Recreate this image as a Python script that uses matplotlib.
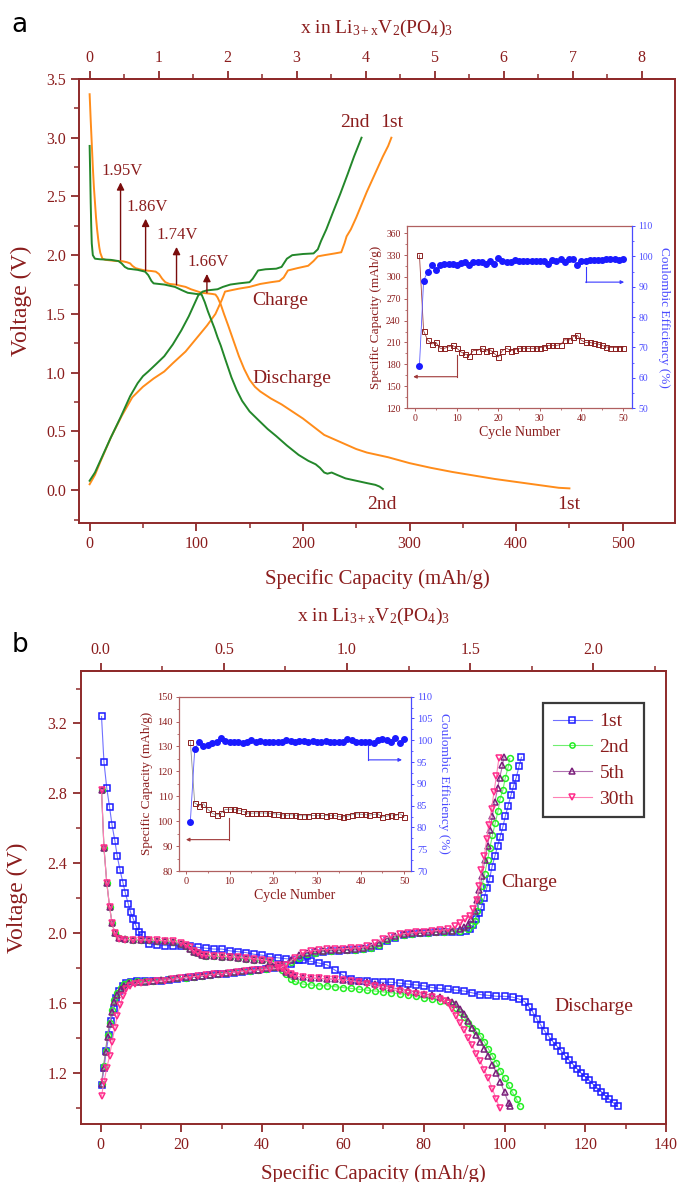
import numpy as np
import matplotlib
matplotlib.use('Agg')
import matplotlib.pyplot as plt
from matplotlib.ticker import MultipleLocator, FixedLocator, FormatStrFormatter

plt.rcParams['font.family'] = ['Liberation Serif', 'DejaVu Serif']
plt.rcParams['mathtext.fontset'] = 'custom'
plt.rcParams['mathtext.rm'] = 'Liberation Serif'
plt.rcParams['mathtext.it'] = 'Liberation Serif:italic'

SPINE = '#8e2a2a'
TXT = '#8b1d1d'
BLUE_AX = '#4a4aff'

# ---------------- panel a : voltage profiles (mAh/g, V) ----------------
a1_dis_cap = [0, 1, 2, 3, 4, 5, 6, 7, 8, 9, 10, 12, 15, 20, 25, 30, 35, 38, 40, 43, 47, 52, 58, 62,
              65, 68, 71, 75, 80, 85, 90, 95, 100, 105, 110, 115, 118, 120, 123, 126, 130, 135, 140,
              145, 150, 155, 160, 170, 180, 190, 200, 210, 220, 230, 240, 250, 260, 270, 280, 300,
              320, 340, 360, 380, 400, 420, 440, 450]
a1_dis_v = [3.37, 3.15, 2.95, 2.75, 2.58, 2.45, 2.32, 2.22, 2.14, 2.07, 2.02, 1.97, 1.96, 1.955, 1.95,
            1.95, 1.94, 1.93, 1.91, 1.89, 1.88, 1.87, 1.865, 1.86, 1.84, 1.80, 1.77, 1.755, 1.75, 1.74,
            1.73, 1.71, 1.695, 1.68, 1.675, 1.67, 1.665, 1.64, 1.58, 1.50, 1.40, 1.27, 1.14, 1.03, 0.94,
            0.88, 0.84, 0.78, 0.73, 0.67, 0.61, 0.54, 0.47, 0.43, 0.39, 0.35, 0.32, 0.30, 0.28, 0.23,
            0.19, 0.155, 0.125, 0.095, 0.07, 0.045, 0.02, 0.015]
a1_chg_cap = [0, 5, 10, 20, 30, 40, 50, 60, 70, 78, 90, 100, 110, 118, 124, 127, 132, 140, 150, 160,
              170, 178, 182, 186, 195, 205, 210, 214, 220, 230, 236, 239, 241, 245, 250, 255, 260,
              265, 270, 275, 280, 283]
a1_chg_v = [0.05, 0.13, 0.24, 0.45, 0.63, 0.79, 0.88, 0.95, 1.01, 1.08, 1.18, 1.29, 1.40, 1.50, 1.62,
            1.69, 1.70, 1.715, 1.73, 1.755, 1.77, 1.78, 1.81, 1.87, 1.89, 1.91, 1.95, 1.99, 2.00, 2.015,
            2.025, 2.10, 2.16, 2.22, 2.32, 2.43, 2.54, 2.64, 2.74, 2.84, 2.93, 3.0]
a2_dis_cap = [0, 0.5, 1, 1.5, 2, 3, 5, 10, 20, 27, 30, 33, 36, 45, 52, 55, 58, 60, 70, 80, 87, 92,
              100, 105, 108, 111, 114, 117, 120, 123, 127, 133, 138, 143, 150, 159, 167, 175, 185,
              196, 205, 212, 216, 220, 223, 227, 232, 240, 250, 260, 268, 272, 275]
a2_dis_v = [2.93, 2.70, 2.45, 2.25, 2.10, 2.00, 1.97, 1.965, 1.96, 1.95, 1.93, 1.90, 1.885, 1.875,
            1.86, 1.83, 1.78, 1.76, 1.75, 1.73, 1.70, 1.68, 1.67, 1.665, 1.60, 1.52, 1.45, 1.38, 1.30,
            1.23, 1.12, 0.96, 0.85, 0.76, 0.67, 0.59, 0.52, 0.46, 0.38, 0.30, 0.25, 0.22, 0.19, 0.15,
            0.14, 0.15, 0.13, 0.10, 0.08, 0.06, 0.045, 0.03, 0.01]
a2_chg_cap = [0, 5, 10, 20, 29, 38, 45, 50, 55, 62, 70, 78, 86, 93, 98, 102, 106, 110, 120, 125, 132,
              140, 150, 153, 158, 165, 175, 180, 185, 190, 200, 210, 214, 217, 222, 228, 235, 242,
              248, 255]
a2_chg_v = [0.08, 0.15, 0.25, 0.45, 0.62, 0.80, 0.91, 0.97, 1.01, 1.07, 1.14, 1.24, 1.36, 1.48, 1.58,
            1.66, 1.69, 1.70, 1.71, 1.73, 1.75, 1.76, 1.77, 1.80, 1.87, 1.88, 1.885, 1.90, 1.97, 2.00,
            2.01, 2.015, 2.05, 2.12, 2.22, 2.36, 2.52, 2.69, 2.84, 3.0]

plateau_v = ['1.95V', '1.86V', '1.74V', '1.66V']
plateau_cap = [29, 52.5, 81.5, 110]
plateau_lo = [1.96, 1.87, 1.75, 1.68]
plateau_hi = [2.62, 2.31, 2.07, 1.84]

# inset a : cycling
cycles = list(range(1, 51))
ia_cap = [330, 226, 213, 208, 210, 202, 202, 204, 206, 202,
          197, 194, 192, 199, 199, 202, 198, 200, 195, 190,
          199, 202, 199, 200, 202, 202, 202, 202, 202, 203,
          204, 206, 206, 206, 207, 214, 213, 218, 220, 213,
          210, 210, 209, 208, 206, 204, 203, 203, 203, 203]
ia_ce = [64, 92, 95, 97, 95.5, 97, 97.5, 97.5, 97.5, 97,
         97.8, 98, 97, 98, 98, 98, 97.5, 98.5, 97.5, 99.5,
         98.5, 98, 98, 98.8, 98.3, 98.3, 98.3, 98.3, 98.3, 98.3,
         98.5, 97.5, 98.8, 98.5, 99, 98, 99, 99, 97, 98.5,
         98.5, 98.8, 98.8, 98.8, 98.8, 99, 99, 99, 98.8, 99.2]

# ---------------- panel b : cycles 1, 2, 5, 30 ----------------
b1_dis_cap = [0.2, 0.8, 1.5, 2.2, 2.8, 3.5, 4.1, 4.8, 5.5, 6.1, 6.8, 7.4, 8.1, 8.8, 9.4, 10.1, 11, 12,
              14, 16, 18, 20, 22, 24, 26, 28, 30, 32, 34, 36, 38, 40, 42, 44, 46, 48, 50, 52, 54, 56,
              58, 60, 62, 64, 66, 68, 70, 72, 74, 76, 78, 80, 82, 84, 86, 88, 90, 92, 94, 96, 98, 100,
              102, 103.5, 105, 106, 107, 108, 109, 110, 111, 112, 113, 114, 115, 116, 117, 118, 119,
              120, 121, 122, 123, 124, 125, 126, 127, 128]
b1_dis_v = [3.24, 2.98, 2.83, 2.72, 2.62, 2.53, 2.44, 2.36, 2.29, 2.23, 2.17, 2.12, 2.08, 2.04, 2.01,
            1.99, 1.96, 1.94,
            1.935, 1.93, 1.93, 1.93, 1.925, 1.92, 1.915, 1.91, 1.91, 1.90, 1.895, 1.89, 1.88, 1.875,
            1.865, 1.86, 1.855, 1.85, 1.845, 1.84, 1.83, 1.82, 1.79, 1.76, 1.74, 1.73, 1.725, 1.72,
            1.72, 1.72, 1.715, 1.71, 1.705, 1.70, 1.69, 1.685, 1.68, 1.675, 1.67, 1.66, 1.65, 1.645,
            1.64, 1.64, 1.635, 1.625,
            1.61, 1.58, 1.55, 1.51, 1.475, 1.44, 1.41, 1.38, 1.355, 1.33, 1.30, 1.275, 1.25, 1.225,
            1.20, 1.18, 1.16, 1.135, 1.115, 1.095, 1.07, 1.05, 1.03, 1.01]
b2_dis_cap = [0.2, 0.8, 1.5, 2.2, 2.8, 3.5, 4.5, 6, 8, 10, 12, 14, 16, 18, 20, 21, 22, 23, 24, 25, 26,
              28, 30, 32, 34, 36, 38, 40, 42, 44, 45, 46, 47, 48, 50, 52, 54, 56, 58, 60, 62, 64, 66,
              68, 70, 72, 74, 76, 78, 80, 82, 84, 86, 87, 88, 89, 90, 91, 92, 93, 94, 95, 96, 97, 98,
              99, 100, 101, 102, 103, 103.8]
b2_dis_v = [2.82, 2.49, 2.29, 2.15, 2.06, 2.00, 1.975, 1.965, 1.962,
            1.96, 1.96, 1.958, 1.955, 1.95, 1.94,
            1.93, 1.91, 1.895, 1.885, 1.878, 1.872,
            1.868, 1.865, 1.862, 1.86, 1.855, 1.85, 1.845, 1.835, 1.81,
            1.79, 1.765, 1.74, 1.725,
            1.71, 1.705, 1.70, 1.70, 1.695, 1.69, 1.685, 1.68, 1.675, 1.67, 1.665, 1.66, 1.655, 1.65,
            1.64, 1.63, 1.625, 1.615, 1.605,
            1.595, 1.575, 1.55, 1.52, 1.49, 1.46, 1.44, 1.415, 1.38, 1.34, 1.30, 1.26, 1.215, 1.17,
            1.13, 1.09, 1.05, 1.01]
b5_dis_cap = [0.2, 0.8, 1.5, 2.2, 2.8, 3.5, 4.5, 6, 8, 10, 12, 14, 16, 18, 20, 21, 22, 23, 24, 25, 26,
              28, 30, 32, 34, 36, 38, 40, 42, 44, 45, 46, 47, 48, 50, 52, 54, 56, 58, 60, 62, 64, 66,
              68, 70, 72, 74, 76, 78, 80, 82, 84, 86, 87, 88, 89, 90, 91, 92, 93, 94, 95, 96, 97, 98,
              99, 100, 101, 101.3]
b5_dis_v = [2.82, 2.49, 2.29, 2.15, 2.06, 2.00, 1.975, 1.965, 1.962,
            1.96, 1.96, 1.958, 1.955, 1.95, 1.94,
            1.93, 1.91, 1.895, 1.885, 1.878, 1.872,
            1.868, 1.865, 1.862, 1.86, 1.855, 1.85, 1.845, 1.838, 1.82,
            1.80, 1.78, 1.765, 1.755,
            1.75, 1.745, 1.742, 1.74, 1.737, 1.735, 1.73, 1.725, 1.72, 1.71, 1.70, 1.69, 1.68, 1.675,
            1.665, 1.655, 1.645, 1.635, 1.62,
            1.61, 1.595, 1.57, 1.54, 1.50, 1.46, 1.42, 1.38, 1.34, 1.30, 1.25, 1.20, 1.15, 1.09, 1.03,
            1.01]
b30_dis_cap = [0.2, 0.8, 1.5, 2.2, 2.8, 3.5, 4.5, 6, 8, 10, 12, 14, 16, 18, 20, 21, 22, 23, 24, 25,
               26, 28, 30, 32, 34, 36, 38, 40, 42, 44, 45, 46, 47, 48, 50, 52, 54, 56, 58, 60, 62, 64,
               66, 68, 70, 72, 74, 76, 78, 80, 82, 84, 85, 86, 87, 88, 89, 90, 91, 92, 93, 94, 95, 96,
               97, 98, 98.8]
b30_dis_v = [2.82, 2.49, 2.29, 2.15, 2.06, 2.00, 1.97, 1.964, 1.964,
             1.963, 1.962, 1.96, 1.958, 1.955, 1.945,
             1.935, 1.92, 1.90, 1.885, 1.878, 1.874,
             1.87, 1.868, 1.866, 1.864, 1.86, 1.855, 1.85, 1.84, 1.82,
             1.80, 1.78, 1.765, 1.755,
             1.75, 1.745, 1.742, 1.74, 1.737, 1.733, 1.728, 1.72, 1.712, 1.70, 1.69, 1.68, 1.67, 1.66,
             1.655, 1.645, 1.635, 1.625,
             1.615, 1.60, 1.57, 1.53, 1.49, 1.45, 1.40, 1.36, 1.31, 1.27, 1.22, 1.17, 1.11, 1.05,
             1.00]

b1_chg_cap = [0.2, 0.8, 1.4, 2.0, 2.6, 3.2, 3.9, 4.6, 5.4, 6.3, 7.5, 9,
              11, 13, 15, 17, 19, 21, 23, 25, 27, 29, 31, 33, 35, 37, 39, 41, 43, 45, 47, 49, 51, 53,
              55, 57, 59, 61, 63, 65, 67, 69, 71, 73, 75, 77, 79, 81, 83, 85, 87, 89,
              90.5, 91.5, 92.2, 93.0, 93.6, 94.3, 94.95, 95.6, 96.3, 96.9, 97.6, 98.3, 98.9, 99.6,
              100.2, 100.9, 101.6, 102.2, 102.9, 103.6, 104.2]
b1_chg_v = [1.13, 1.23, 1.33, 1.42, 1.50, 1.57, 1.63, 1.67, 1.70, 1.715, 1.72, 1.725,
            1.725, 1.73, 1.73, 1.735, 1.74, 1.745, 1.75, 1.755, 1.76, 1.765, 1.77, 1.775, 1.78, 1.785,
            1.79, 1.795, 1.80, 1.81, 1.825, 1.845, 1.87, 1.885, 1.895, 1.90, 1.90, 1.905, 1.905, 1.91,
            1.915, 1.93, 1.955, 1.975, 1.99, 1.995, 2.0, 2.0, 2.005, 2.005, 2.01, 2.01,
            2.015, 2.025, 2.046, 2.08, 2.116, 2.15, 2.20, 2.26, 2.31, 2.38, 2.44, 2.50, 2.55, 2.61,
            2.67, 2.73, 2.79, 2.84, 2.89, 2.956, 3.007]
b2_chg_cap = [0.2, 0.7, 1.2, 1.7, 2.2, 2.8, 3.4, 4.1, 4.9, 5.8, 7, 9,
              11, 13, 15, 17, 19, 21, 23, 25, 27, 29, 31, 33, 35, 37, 39, 41, 43, 45, 47, 49, 51, 53,
              55, 57, 59, 61, 63, 65, 67, 69, 71, 73, 75, 77, 79, 81, 83, 85, 87, 89,
              91, 92.0, 92.6, 93.2, 93.8, 94.4, 95.1, 95.8, 96.4, 97.0, 97.7, 98.4, 98.9, 99.6, 100.2,
              100.9, 101.3]
b2_chg_v = [1.14, 1.24, 1.33, 1.42, 1.49, 1.56, 1.62, 1.66, 1.69, 1.71, 1.72, 1.725,
            1.725, 1.73, 1.732, 1.737, 1.742, 1.747, 1.752, 1.757, 1.762, 1.767, 1.772, 1.777, 1.782,
            1.787, 1.792, 1.797, 1.805, 1.815, 1.835, 1.86, 1.88, 1.89, 1.897, 1.90, 1.902, 1.905,
            1.907, 1.91, 1.918, 1.935, 1.96, 1.98, 1.99, 1.997, 2.0, 2.003, 2.006, 2.008, 2.012, 2.015,
            2.025, 2.045, 2.07, 2.13, 2.19, 2.27, 2.34, 2.42, 2.49, 2.56, 2.63, 2.70, 2.77, 2.82, 2.89,
            2.95, 3.00]
b5_chg_cap = [0.2, 0.7, 1.2, 1.7, 2.2, 2.8, 3.4, 4.1, 4.9, 5.8, 7, 9,
              11, 13, 15, 17, 19, 21, 23, 25, 27, 29, 31, 33, 35, 37, 39, 41, 43, 45, 47, 49, 51, 53,
              55, 57, 59, 61, 63, 65, 67, 69, 71, 73, 75, 77, 79, 81, 83, 85, 87, 89,
              90, 91, 91.8, 92.6, 93.3, 93.8, 94.5, 95.1, 95.8, 96.4, 97.0, 97.6, 98.3, 98.8, 99.5, 99.9]
b5_chg_v = [1.14, 1.23, 1.32, 1.41, 1.48, 1.55, 1.61, 1.65, 1.68, 1.70, 1.715, 1.72,
            1.722, 1.727, 1.732, 1.737, 1.742, 1.748, 1.753, 1.758, 1.763, 1.768, 1.773, 1.778, 1.783,
            1.788, 1.793, 1.80, 1.81, 1.825, 1.85, 1.875, 1.89, 1.897, 1.90, 1.903, 1.905, 1.907,
            1.91, 1.915, 1.925, 1.945, 1.97, 1.985, 1.995, 2.0, 2.003, 2.006, 2.009, 2.012, 2.016,
            2.025,
            2.035, 2.05, 2.08, 2.13, 2.19, 2.25, 2.33, 2.42, 2.50, 2.59, 2.67, 2.75, 2.83, 2.89, 2.96,
            3.01]
b30_chg_cap = [0.2, 0.8, 1.5, 2.2, 2.8, 3.5, 4.1, 4.8, 5.5, 6.3, 7.2, 8.5, 10,
               12, 14, 16, 18, 20, 22, 24, 26, 28, 30, 32, 34, 36, 38, 40, 42, 44, 46, 48, 50, 52, 54,
               56, 58, 60, 62, 64, 66, 68, 70, 72, 74, 76, 78, 80, 82, 84, 86,
               87.8, 89.0, 90.2, 91.5, 92.3, 93.1, 93.7, 94.3, 95.0, 95.6, 96.1, 96.8, 97.4, 98.0, 98.6]
b30_chg_v = [1.07, 1.15, 1.23, 1.30, 1.38, 1.46, 1.53, 1.59, 1.64, 1.68, 1.70, 1.71, 1.715,
             1.72, 1.725, 1.73, 1.737, 1.745, 1.75, 1.755, 1.76, 1.765, 1.77, 1.775, 1.78, 1.784, 1.788,
             1.792, 1.796, 1.80, 1.82, 1.86, 1.89, 1.90, 1.905, 1.908, 1.91, 1.912, 1.915, 1.918, 1.925,
             1.945, 1.97, 1.985, 1.995, 2.0, 2.005, 2.01, 2.013, 2.017, 2.022,
             2.04, 2.06, 2.08, 2.10, 2.14, 2.19, 2.27, 2.36, 2.44, 2.54, 2.62, 2.71, 2.81, 2.90, 3.00]

cycle_labels = ['1st', '2nd', '5th', '30th']

# inset b : cycling
ib_cap = [132, 107.3, 106.3, 107, 104.8, 103.2, 102.5, 103.2, 104.7, 104.8,
          104.8, 104.5, 104, 103.3, 103.2, 103.3, 103.3, 103.3, 103.2, 103,
          102.8, 102.6, 102.3, 102.6, 102.4, 102.2, 102.2, 102.2, 102.3, 102.3,
          102.3, 102.2, 102.4, 102.3, 101.9, 101.7, 102, 102.6, 103, 102.8,
          102.7, 102.4, 102.7, 102.9, 101.7, 102, 102.6, 102.2, 103, 101.8]
ib_ce = [81.2, 97.9, 99.7, 98.6, 98.8, 99.4, 99.6, 100.6, 99.8, 99.6,
         99.5, 99.5, 99.3, 99.5, 100.0, 99.7, 99.8, 99.7, 99.7, 99.6,
         99.6, 99.6, 100, 99.8, 99.6, 99.8, 99.8, 99.6, 99.9, 99.7,
         99.6, 99.9, 99.6, 99.5, 99.7, 99.7, 100.2, 100.0, 99.6, 99.7,
         99.5, 99.5, 99.3, 100, 100.2, 100.1, 99.7, 100.5, 99.4, 100.2]

LI_A = 64.7   # mAh/g per Li, panel a top axis
LI_B = 61.0   # panel b top axis
top_ticks_a = [0, 1, 2, 3, 4, 5, 6, 7, 8]
top_ticks_b = [0.0, 0.5, 1.0, 1.5, 2.0]
XLAB_TOP = r'x in Li$_{\mathrm{3+x}}$V$_{\mathrm{2}}$(PO$_{\mathrm{4}}$)$_{\mathrm{3}}$'


def style_main(ax):
    for s in ax.spines.values():
        s.set_color(SPINE)
        s.set_linewidth(1.4)
    ax.tick_params(which='both', direction='out', colors=SPINE, labelcolor=TXT,
                   labelsize=11.5, right=False)
    ax.tick_params(which='major', length=6, width=1.3)
    ax.tick_params(which='minor', length=3.5, width=1.1)


def style_top(sec, ticks, minor, pad):
    sec.spines['top'].set_color(SPINE)
    sec.spines['top'].set_linewidth(1.4)
    sec.xaxis.set_major_locator(FixedLocator(ticks))
    sec.xaxis.set_minor_locator(FixedLocator(minor))
    sec.tick_params(which='both', direction='out', colors=SPINE, labelcolor=TXT, labelsize=11.5)
    sec.tick_params(which='major', length=6, width=1.3)
    sec.tick_params(which='minor', length=3.5, width=1.1)
    sec.set_xlabel(XLAB_TOP, color=TXT, fontsize=14, labelpad=pad)


def style_inset(ax, ax2, lab_size, tick_size):
    for s in ['left', 'bottom', 'top']:
        ax.spines[s].set_color('#b06060')
        ax.spines[s].set_linewidth(0.9)
    ax.spines['right'].set_visible(False)
    for s in ['left', 'bottom', 'top']:
        ax2.spines[s].set_visible(False)
    ax2.spines['right'].set_color(BLUE_AX)
    ax2.spines['right'].set_linewidth(0.9)
    ax.tick_params(which='both', direction='out', colors='#b06060', labelcolor=TXT,
                   labelsize=tick_size, pad=2)
    ax.tick_params(which='major', length=2.5, width=0.7)
    ax.tick_params(which='minor', length=1.5, width=0.6)
    ax2.tick_params(which='both', direction='out', colors=BLUE_AX, labelcolor=BLUE_AX,
                    labelsize=tick_size, pad=2)
    ax2.tick_params(which='major', length=2.5, width=0.7)
    ax2.tick_params(which='minor', length=1.5, width=0.6)
    ax.set_xlabel('Cycle Number', color=TXT, fontsize=lab_size + 0.5, labelpad=2)
    ax.set_ylabel('Specific Capacity (mAh/g)', color=TXT, fontsize=lab_size, labelpad=3)
    ax2.set_ylabel('Coulombic Efficiency (%)', color=BLUE_AX, fontsize=lab_size,
                   labelpad=4, rotation=270, va='bottom')


def elbow_arrow(ax, x0, y0, y1, x1, color):
    ax.plot([x0, x0], [y0, y1], color=color, lw=0.8)
    ax.annotate('', xy=(x1, y1), xytext=(x0, y1),
                arrowprops=dict(arrowstyle='-|>', color=color, lw=0.8,
                                mutation_scale=5, shrinkA=0, shrinkB=0))


fig = plt.figure(figsize=(6.79, 11.82), dpi=100)

# ======================= panel a =======================
axa = fig.add_axes([0.1163, 0.5575, 0.8778, 0.3757])
ORANGE = '#ff8c1a'
GREEN = '#23872a'
axa.plot(a1_dis_cap, a1_dis_v, color=ORANGE, lw=1.4)
axa.plot(a1_chg_cap, a1_chg_v, color=ORANGE, lw=1.4)
axa.plot(a2_dis_cap, a2_dis_v, color=GREEN, lw=1.4)
axa.plot(a2_chg_cap, a2_chg_v, color=GREEN, lw=1.4)
axa.set_xlim(-10, 549)
axa.set_ylim(-0.28, 3.5)
axa.xaxis.set_major_locator(MultipleLocator(100))
axa.xaxis.set_minor_locator(MultipleLocator(50))
axa.yaxis.set_major_locator(MultipleLocator(0.5))
axa.yaxis.set_minor_locator(MultipleLocator(0.25))
axa.yaxis.set_major_formatter(FormatStrFormatter('%.1f'))
style_main(axa)
axa.tick_params(top=False)
axa.set_xlabel('Specific Capacity (mAh/g)', color=TXT, fontsize=15, labelpad=12)
axa.set_ylabel('Voltage (V)', color=TXT, fontsize=17, labelpad=10)
seca = axa.secondary_xaxis('top', functions=(lambda c: c / LI_A, lambda x: x * LI_A))
style_top(seca, top_ticks_a, [t + 0.5 for t in top_ticks_a], 12)

for lab, cx, lo, hi in zip(plateau_v, plateau_cap, plateau_lo, plateau_hi):
    axa.annotate('', xy=(cx, hi), xytext=(cx, lo),
                 arrowprops=dict(arrowstyle='-|>', color='#7a0c0c', lw=1.0,
                                 mutation_scale=11, shrinkA=0, shrinkB=0))
    axa.text(cx + 1, hi + 0.03, lab, color=TXT, fontsize=12, ha='center', va='bottom')

axa.text(249, 3.13, '2nd', color=TXT, fontsize=14, ha='center', va='center')
axa.text(283, 3.13, '1st', color=TXT, fontsize=14, ha='center', va='center')
axa.text(179, 1.61, 'Charge', color=TXT, fontsize=14, ha='center', va='center')
axa.text(190, 0.95, 'Discharge', color=TXT, fontsize=14, ha='center', va='center')
axa.text(274, -0.12, '2nd', color=TXT, fontsize=14, ha='center', va='center')
axa.text(449, -0.12, '1st', color=TXT, fontsize=14, ha='center', va='center')

# inset a
ina = fig.add_axes([0.5994, 0.6548, 0.3314, 0.154])
ina2 = ina.twinx()
ina.plot(cycles, ia_cap, color='#a04040', lw=0.6, marker='s', ms=3.6, mfc='none',
         mec='#8b2020', mew=0.7)
ina2.plot(cycles, ia_ce, color='#5a5aff', lw=0.6, marker='o', ms=4.0, mfc='#1a1aff',
          mec='#1a1aff')
ina.set_xlim(-2, 52.2)
ina.set_ylim(120, 370)
ina2.set_ylim(50, 110)
ina.xaxis.set_major_locator(MultipleLocator(10))
ina.xaxis.set_minor_locator(MultipleLocator(5))
ina.yaxis.set_major_locator(MultipleLocator(30))
ina.yaxis.set_minor_locator(MultipleLocator(15))
ina2.yaxis.set_major_locator(MultipleLocator(10))
ina2.yaxis.set_minor_locator(MultipleLocator(5))
style_inset(ina, ina2, 9.5, 7)
elbow_arrow(ina, 10, 193, 163, -0.5, '#a03a3a')
elbow_arrow(ina2, 41, 96.5, 91.5, 50.3, '#3a3aff')

# ======================= panel b =======================
axb = fig.add_axes([0.1186, 0.0491, 0.8623, 0.3832])
series_b = [
    (b1_dis_cap, b1_dis_v, b1_chg_cap, b1_chg_v, 's', '#1a1aff', '#7070ff'),
    (b2_dis_cap, b2_dis_v, b2_chg_cap, b2_chg_v, 'o', '#22ee22', '#70ee70'),
    (b5_dis_cap, b5_dis_v, b5_chg_cap, b5_chg_v, '^', '#7a1f7a', '#b070b0'),
    (b30_dis_cap, b30_dis_v, b30_chg_cap, b30_chg_v, 'v', '#ff2a8a', '#ff80b5'),
]
handles = []
for (dc, dv, cc, cv, mk, mcol, lcol), lab in zip(series_b, cycle_labels):
    h, = axb.plot(dc, dv, color=lcol, lw=0.8, marker=mk, ms=4.2, mfc='none', mec=mcol, mew=1.1,
                  label=lab)
    axb.plot(cc, cv, color=lcol, lw=0.8, marker=mk, ms=4.2, mfc='none', mec=mcol, mew=1.1)
    handles.append(h)
axb.set_xlim(-5, 140)
axb.set_ylim(0.91, 3.5)
axb.xaxis.set_major_locator(MultipleLocator(20))
axb.xaxis.set_minor_locator(MultipleLocator(10))
axb.yaxis.set_major_locator(MultipleLocator(0.4))
axb.yaxis.set_minor_locator(MultipleLocator(0.2))
style_main(axb)
axb.tick_params(top=False)
axb.set_xlabel('Specific Capacity (mAh/g)', color=TXT, fontsize=15, labelpad=8)
axb.set_ylabel('Voltage (V)', color=TXT, fontsize=17, labelpad=14)
secb = axb.secondary_xaxis('top', functions=(lambda c: c / LI_B, lambda x: x * LI_B))
style_top(secb, top_ticks_b, [t + 0.25 for t in top_ticks_b], 15)
secb.xaxis.set_major_formatter(FormatStrFormatter('%.1f'))
axb.text(106, 2.29, 'Charge', color=TXT, fontsize=14, ha='center', va='center')
axb.text(122, 1.58, 'Discharge', color=TXT, fontsize=14, ha='center', va='center')

leg = axb.legend(handles=handles, loc='upper left', bbox_to_anchor=(543 / 679, 1 - 703 / 1182),
                 bbox_transform=fig.transFigure, fontsize=14, numpoints=1, handlelength=2.0,
                 handletextpad=0.4, borderpad=0.5, labelspacing=0.42, borderaxespad=0,
                 fancybox=False, framealpha=1, markerscale=0.9)
leg.get_frame().set_edgecolor('#3a3a3a')
leg.get_frame().set_linewidth(1.6)
for t in leg.get_texts():
    t.set_color(TXT)

# inset b
inb = fig.add_axes([0.2636, 0.2631, 0.3413, 0.1475])
inb2 = inb.twinx()
inb.plot(cycles, ib_cap, color='#909090', lw=0.6, marker='s', ms=3.6, mfc='none',
         mec='#8b2020', mew=0.7)
inb2.plot(cycles, ib_ce, color='#5a5aff', lw=0.6, marker='o', ms=4.0, mfc='#1a1aff',
          mec='#1a1aff')
inb.set_xlim(-1.6, 51.5)
inb.set_ylim(80, 150)
inb2.set_ylim(70, 110)
inb.xaxis.set_major_locator(MultipleLocator(10))
inb.xaxis.set_minor_locator(MultipleLocator(5))
inb.yaxis.set_major_locator(MultipleLocator(10))
inb.yaxis.set_minor_locator(MultipleLocator(5))
inb2.yaxis.set_major_locator(MultipleLocator(5))
inb2.yaxis.set_minor_locator(MultipleLocator(2.5))
style_inset(inb, inb2, 9.5, 7.5)
elbow_arrow(inb, 9.8, 101.3, 92.6, 0, '#a03a3a')
elbow_arrow(inb2, 41.8, 98.9, 95.5, 49.5, '#3a3aff')

fig.text(0.029, 0.979, 'a', fontsize=19, family='DejaVu Sans', ha='center', va='center')
fig.text(0.029, 0.454, 'b', fontsize=19, family='DejaVu Sans', ha='center', va='center')

fig.savefig('out.png', dpi=100)
